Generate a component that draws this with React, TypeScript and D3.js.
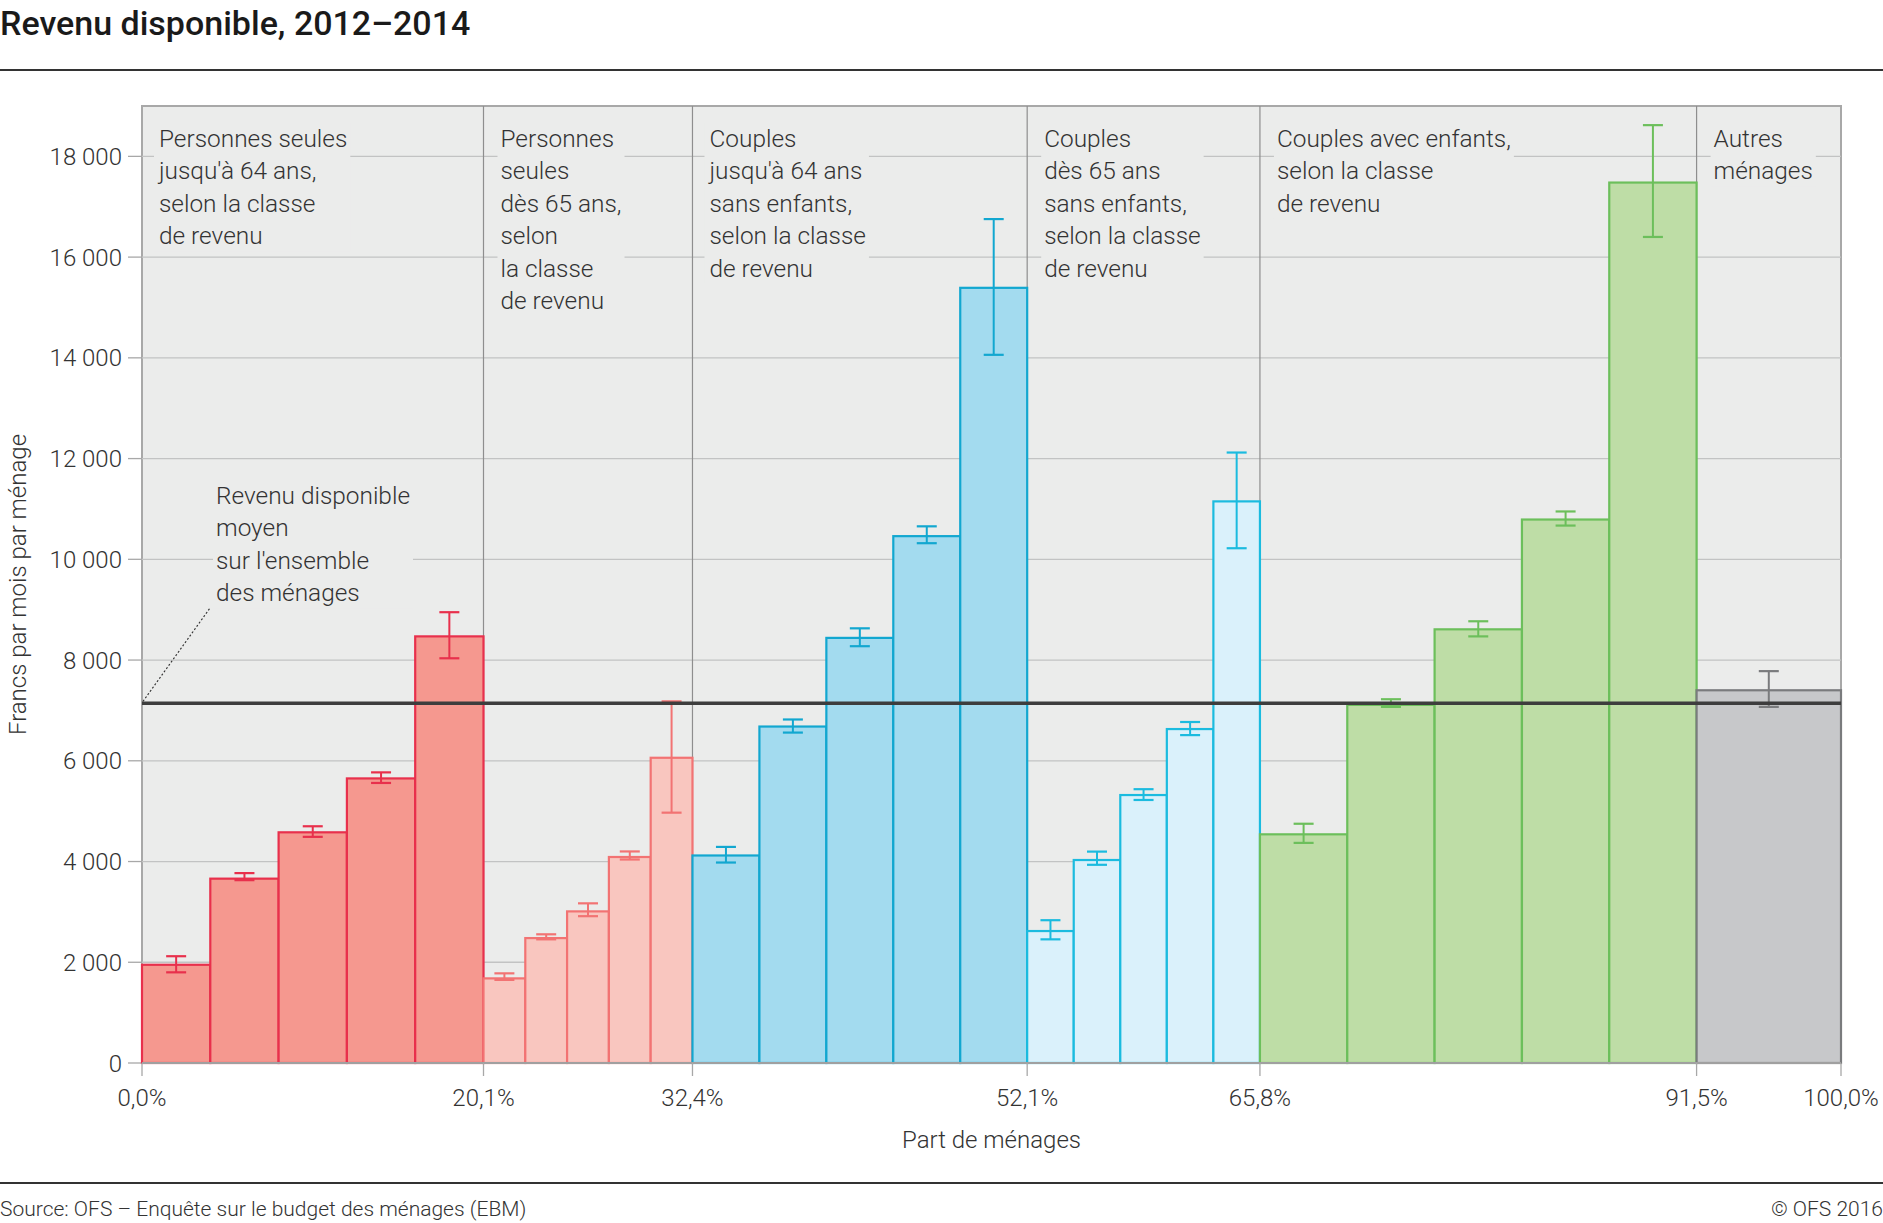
// Revenu disponible 2012–2014 - D3 variable-width bar chart with error bars

import { useEffect, useRef } from "react";
import * as d3 from "d3";

// Household share boundaries (%) of each group
const shareBounds = [0, 20.1, 32.4, 52.1, 65.8, 91.5, 100];
const xTickLabels = ["0,0%", "20,1%", "32,4%", "52,1%", "65,8%", "91,5%", "100,0%"];
const yTicks = [0, 2000, 4000, 6000, 8000, 10000, 12000, 14000, 16000, 18000];

// Mean disposable income per income class, by group
const values = [
  [1950, 3660, 4580, 5650, 8470],
  [1680, 2480, 3010, 4090, 6060],
  [4120, 6680, 8440, 10460, 15390],
  [2620, 4030, 5320, 6630, 11150],
  [4540, 7110, 8610, 10790, 17480],
  [7400],
];
const errLow = [
  [1800, 3630, 4490, 5560, 8035],
  [1650, 2455, 2915, 4040, 4970],
  [3980, 6560, 8275, 10320, 14060],
  [2455, 3935, 5222, 6510, 10220],
  [4370, 7070, 8470, 10670, 16400],
  [7070],
];
const errHigh = [
  [2120, 3770, 4700, 5770, 8950],
  [1780, 2555, 3170, 4200, 7180],
  [4290, 6820, 8630, 10655, 16755],
  [2835, 4197, 5436, 6770, 12120],
  [4750, 7222, 8770, 10950, 18620],
  [7780],
];
const meanIncome = 7140;

const groupLabels = [
  ["Personnes seules", "jusqu'à 64 ans,", "selon la classe", "de revenu"],
  ["Personnes", "seules", "dès 65 ans,", "selon", "la classe", "de revenu"],
  ["Couples", "jusqu'à 64 ans", "sans enfants,", "selon la classe", "de revenu"],
  ["Couples", "dès 65 ans", "sans enfants,", "selon la classe", "de revenu"],
  ["Couples avec enfants,", "selon la classe", "de revenu"],
  ["Autres", "ménages"],
];
const meanLabel = ["Revenu disponible", "moyen", "sur l'ensemble", "des ménages"];

const fills = ["#f5988f", "#f9c6bf", "#a3dbef", "#daf1fb", "#bedda6", "#c7c8ca"];
const strokes = ["#e8304c", "#f27373", "#12a7d0", "#1bbbdf", "#6cbf5b", "#7a7b7d"];

export default function App() {
  const svgRef = useRef<SVGSVGElement>(null);
  const width = 1883;
  const height = 1223;

  useEffect(() => {
    document.body.style.margin = "0";
    if (!svgRef.current) return;
    const svg = d3.select(svgRef.current);
    svg.selectAll("*").remove();

    const left = 142;
    const right = 1841;
    const top = 106;
    const bottom = 1063;
    const font = "Roboto, 'Noto Sans', sans-serif";
    const plotBg = "#ebeceb";

    const x = d3.scaleLinear().domain([0, 100]).range([left, right]);
    const y = d3.scaleLinear().domain([0, 19000]).range([bottom, top]);
    const fmt = d3.formatLocale({
      decimal: ",",
      thousands: " ",
      grouping: [3],
      currency: ["", ""],
    }).format(",");

    // Title
    svg
      .append("text")
      .attr("x", 0)
      .attr("y", 35)
      .attr("fill", "#1a1a1a")
      .style("font-family", font)
      .style("font-size", "34px")
      .style("font-weight", "500")
      .text("Revenu disponible, 2012–2014");

    svg
      .append("line")
      .attr("x1", 0)
      .attr("x2", width)
      .attr("y1", 70)
      .attr("y2", 70)
      .attr("stroke", "#333")
      .attr("stroke-width", 2);

    // Plot background
    svg
      .append("rect")
      .attr("x", left)
      .attr("y", top)
      .attr("width", right - left)
      .attr("height", bottom - top)
      .attr("fill", plotBg)
      .attr("stroke", "#a8a8a8")
      .attr("stroke-width", 2);

    // Gridlines + y ticks
    const yg = svg.append("g");
    yTicks.forEach((t) => {
      if (t > 0) {
        yg.append("line")
          .attr("x1", left)
          .attr("x2", right)
          .attr("y1", y(t))
          .attr("y2", y(t))
          .attr("stroke", "#c2c3c3")
          .attr("stroke-width", 1.3);
      }
      yg.append("line")
        .attr("x1", left - 14)
        .attr("x2", left)
        .attr("y1", y(t))
        .attr("y2", y(t))
        .attr("stroke", "#a8a8a8")
        .attr("stroke-width", 1.3);
      yg.append("text")
        .attr("x", left - 20)
        .attr("y", y(t))
        .attr("dy", "0.36em")
        .attr("text-anchor", "end")
        .attr("fill", "#333")
        .style("font-family", font)
        .style("font-size", "24px")
        .style("font-weight", "300")
        .text(fmt(t));
    });

    // Group dividers
    shareBounds.slice(1, -1).forEach((b) => {
      svg
        .append("line")
        .attr("x1", x(b))
        .attr("x2", x(b))
        .attr("y1", top)
        .attr("y2", bottom)
        .attr("stroke", "#8e8e8e")
        .attr("stroke-width", 1.2);
    });

    // Group labels (with background boxes hiding the grid)
    const labelG = svg.append("g");
    const drawBlock = (lines: string[], lx: number, ly: number) => {
      const g = labelG.append("g");
      const rect = g.append("rect").attr("fill", plotBg);
      const text = g
        .append("text")
        .attr("fill", "#333")
        .style("font-family", font)
        .style("font-size", "24.4px")
        .style("font-weight", "300");
      lines.forEach((l, i) => {
        text
          .append("tspan")
          .attr("x", lx)
          .attr("y", ly + i * 32.4)
          .text(l);
      });
      const bb = (text.node() as SVGTextElement).getBBox();
      rect
        .attr("x", bb.x - 3)
        .attr("y", bb.y - 1)
        .attr("width", bb.width + 6)
        .attr("height", bb.height + 2);
    };

    // Bars
    const barG = svg.append("g");
    const errG = svg.append("g");
    values.forEach((vals, gi) => {
      const x0 = shareBounds[gi];
      const step = (shareBounds[gi + 1] - x0) / vals.length;
      vals.forEach((v, bi) => {
        const bx0 = x(x0 + bi * step);
        const bx1 = x(x0 + (bi + 1) * step);
        barG
          .append("rect")
          .attr("x", bx0)
          .attr("y", y(v))
          .attr("width", bx1 - bx0)
          .attr("height", y(0) - y(v))
          .attr("fill", fills[gi])
          .attr("stroke", strokes[gi])
          .attr("stroke-width", 2.2);

        const cx = (bx0 + bx1) / 2;
        const lo = y(errLow[gi][bi]);
        const hi = y(errHigh[gi][bi]);
        errG
          .append("line")
          .attr("x1", cx)
          .attr("x2", cx)
          .attr("y1", lo)
          .attr("y2", hi)
          .attr("stroke", strokes[gi])
          .attr("stroke-width", 2);
        [lo, hi].forEach((yy) => {
          errG
            .append("line")
            .attr("x1", cx - 10)
            .attr("x2", cx + 10)
            .attr("y1", yy)
            .attr("y2", yy)
            .attr("stroke", strokes[gi])
            .attr("stroke-width", 2.2);
        });
      });
    });

    // Baseline
    svg
      .append("line")
      .attr("x1", left)
      .attr("x2", right)
      .attr("y1", y(0))
      .attr("y2", y(0))
      .attr("stroke", "#a0a0a0")
      .attr("stroke-width", 2);

    // Mean line
    svg
      .append("line")
      .attr("x1", left)
      .attr("x2", right)
      .attr("y1", y(meanIncome))
      .attr("y2", y(meanIncome))
      .attr("stroke", "#3d3d3d")
      .attr("stroke-width", 3.5);

    // Labels on top
    groupLabels.forEach((lines, gi) => {
      drawBlock(lines, x(shareBounds[gi]) + 17, 147);
    });
    drawBlock(meanLabel, 216, 504);

    // Leader line for the mean
    svg
      .append("line")
      .attr("x1", left + 1)
      .attr("y1", y(meanIncome) - 2)
      .attr("x2", 210)
      .attr("y2", 608)
      .attr("stroke", "#333")
      .attr("stroke-width", 1.2)
      .attr("stroke-dasharray", "2,2");

    // X ticks
    shareBounds.forEach((b, i) => {
      svg
        .append("line")
        .attr("x1", x(b))
        .attr("x2", x(b))
        .attr("y1", bottom)
        .attr("y2", bottom + 13)
        .attr("stroke", "#a8a8a8")
        .attr("stroke-width", 1.3);
      svg
        .append("text")
        .attr("x", x(b))
        .attr("y", 1106)
        .attr("text-anchor", "middle")
        .attr("fill", "#333")
        .style("font-family", font)
        .style("font-size", "24px")
        .style("font-weight", "300")
        .text(xTickLabels[i]);
    });

    // Axis titles
    svg
      .append("text")
      .attr("x", (left + right) / 2)
      .attr("y", 1148)
      .attr("text-anchor", "middle")
      .attr("fill", "#333")
      .style("font-family", font)
      .style("font-size", "24px")
      .style("font-weight", "300")
      .text("Part de ménages");

    svg
      .append("text")
      .attr("transform", `translate(26, ${(top + bottom) / 2}) rotate(-90)`)
      .attr("text-anchor", "middle")
      .attr("fill", "#333")
      .style("font-family", font)
      .style("font-size", "24px")
      .style("font-weight", "300")
      .text("Francs par mois par ménage");

    // Footer
    svg
      .append("line")
      .attr("x1", 0)
      .attr("x2", width)
      .attr("y1", 1183)
      .attr("y2", 1183)
      .attr("stroke", "#333")
      .attr("stroke-width", 2);

    svg
      .append("text")
      .attr("x", 0)
      .attr("y", 1216)
      .attr("fill", "#333")
      .style("font-family", font)
      .style("font-size", "21px")
      .style("font-weight", "300")
      .text("Source: OFS – Enquête sur le budget des ménages (EBM)");

    svg
      .append("text")
      .attr("x", width)
      .attr("y", 1216)
      .attr("text-anchor", "end")
      .attr("fill", "#333")
      .style("font-family", font)
      .style("font-size", "21px")
      .style("font-weight", "300")
      .text("© OFS 2016");
  }, []);

  return (
    <svg
      ref={svgRef}
      width={width}
      height={height}
      style={{ display: "block", background: "#fff" }}
    />
  );
}
